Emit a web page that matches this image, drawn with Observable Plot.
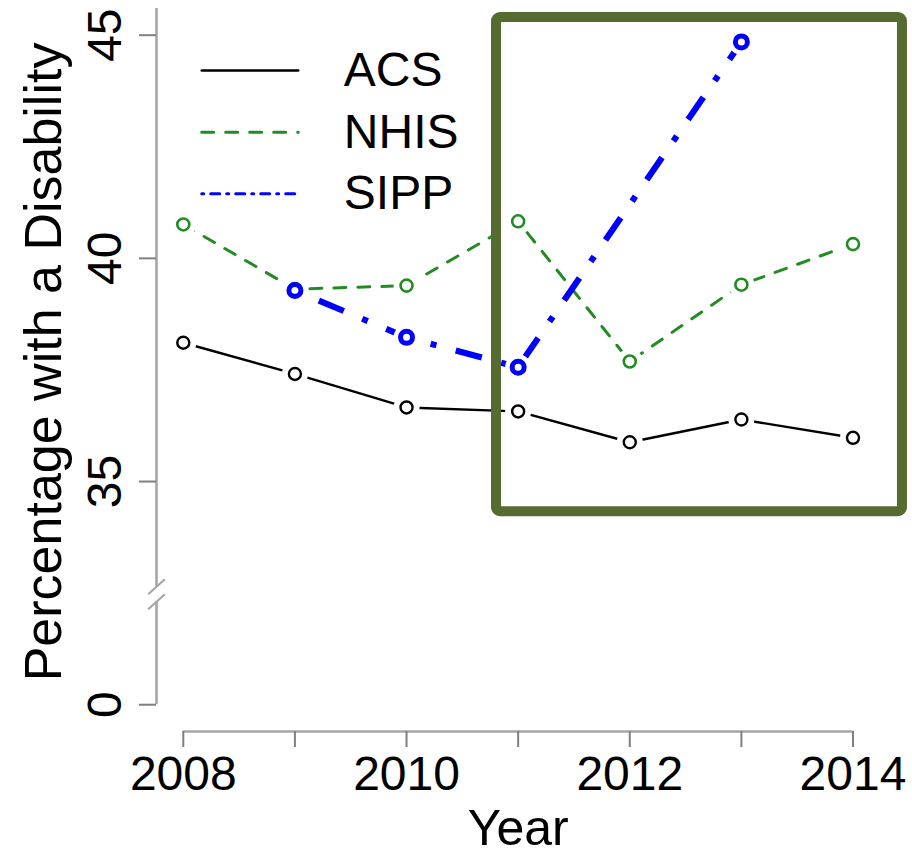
<!DOCTYPE html>
<html><head><meta charset="utf-8">
<script src="https://cdn.jsdelivr.net/npm/d3@7"></script>
<script src="https://cdn.jsdelivr.net/npm/@observablehq/plot@0.6"></script>
<style>
html,body{margin:0;padding:0;background:#fff;}
#chart svg{display:block;}
</style>
</head><body><div id="chart"></div>
<script>
// ---- data ----
const years = [2008, 2009, 2010, 2011, 2012, 2013, 2014];
const acs  = [38.11, 37.41, 36.66, 36.57, 35.88, 36.39, 35.98];
const nhis = [40.76, 39.31, 39.39, 40.83, 37.69, 39.41, 40.32];
const sipp = [null, 39.28, 38.23, 37.56, null, 44.85, null];
const seriesNames  = ["ACS", "NHIS", "SIPP"];
const seriesValues = [acs, nhis, sipp];
const seriesColors = ["#000000", "#228B22", "#0000FF"];
const yTickValues = [0, 35, 40, 45];
const yTickLabels = ["0", "35", "40", "45"];
const xTickLabels = ["2008", "", "2010", "", "2012", "", "2014"];
const yTitle = "Percentage with a Disability";
const xTitle = "Year";
// highlighted region (data units)
const boxX = [2010.806, 2014.443];
const boxY = [34.325, 45.396];

// ---- layout / styles ----
const zeroDrawnAt = 30;            // axis break: 0 is drawn where 30 would be
const brk = v => (v < zeroDrawnAt ? zeroDrawnAt + v : v);
const xDom = [2007.76, 2014.24];
const yDom = [29.4, 45.6];
const breakCenters = [32.644, 32.308];
const lineWidths = [2.4, 3, 6.2];
const lineDashes = [null, "12,12", "6,20,27,20"];
const dotR = [6, 6, 6];
const dotSW = [2.4, 2.6, 5];
const legendDashes = [null, "12,12", "2,7,9,7"];
const legendWidths = [2.4, 3, 3];
const FONT = "'Liberation Sans', Arial, Helvetica, sans-serif";
const axisGray = "#a6a6a6", tickGray = "#7f7f7f";

const rows = [];
seriesNames.forEach((s, k) => years.forEach((yr, i) => {
  const v = seriesValues[k][i];
  if (v != null) rows.push({series: s, year: yr, value: v, k});
}));
const legend = seriesNames.map((s, k) => ({series: s, k}));
const legY = k => 44.208 - k * 1.381;

const marks = [];
// y axis line with break
marks.push(Plot.ruleX([xDom[0]], {y1: yDom[1], y2: breakCenters[0], stroke: axisGray, strokeWidth: 2.6}));
marks.push(Plot.ruleX([xDom[0]], {y1: breakCenters[1], y2: brk(0), stroke: axisGray, strokeWidth: 2.6}));
marks.push(Plot.link(breakCenters, {x1: xDom[0] - 0.0744, x2: xDom[0] + 0.0744, y1: d => d - 0.168, y2: d => d + 0.168, stroke: axisGray, strokeWidth: 2.2}));
// y ticks & labels
marks.push(Plot.axisY(yTickValues.map(brk), {
  anchor: "left", tickSize: 17, tickRotate: -90, tickPadding: 19, fontSize: 48,
  tickFormat: d => yTickLabels[yTickValues.map(brk).indexOf(d)],
  stroke: tickGray, strokeWidth: 2, fill: "black", label: null
}));
// x axis
marks.push(Plot.ruleY([yDom[0]], {x1: years[0], x2: years[years.length - 1], stroke: axisGray, strokeWidth: 2.6}));
marks.push(Plot.axisX(years, {
  anchor: "bottom", tickSize: 16, tickPadding: 8, fontSize: 48,
  tickFormat: d => xTickLabels[years.indexOf(d)],
  stroke: tickGray, strokeWidth: 2, fill: "black", label: null
}));
// axis titles
marks.push(Plot.text([xTitle], {frameAnchor: "bottom", dy: 113, lineAnchor: "bottom", textAnchor: "middle", fontSize: 50, fill: "black"}));
marks.push(Plot.text([yTitle], {frameAnchor: "left", dx: -96, dy: -8, rotate: -90, lineAnchor: "bottom", textAnchor: "middle", fontSize: 52, fill: "black"}));
// series lines
seriesNames.forEach((s, k) => {
  marks.push(Plot.line(rows.filter(d => d.k === k), {
    x: "year", y: "value", stroke: seriesColors[k], strokeWidth: lineWidths[k],
    strokeDasharray: lineDashes[k], strokeLinecap: k === 2 ? "butt" : "round", curve: "linear"
  }));
});
// gaps around points (R type = "b")
marks.push(Plot.dot(rows, {x: "year", y: "value", r: 13, fill: "white", stroke: "none"}));
seriesNames.forEach((s, k) => {
  marks.push(Plot.dot(rows.filter(d => d.k === k), {
    x: "year", y: "value", r: dotR[k], stroke: seriesColors[k], strokeWidth: dotSW[k], fill: "none"
  }));
});
// legend
seriesNames.forEach((s, k) => {
  marks.push(Plot.link([legend[k]], {
    x1: 2008.165, x2: 2009.03, y1: d => legY(d.k), y2: d => legY(d.k),
    stroke: seriesColors[k], strokeWidth: legendWidths[k], strokeDasharray: legendDashes[k], strokeLinecap: "round"
  }));
});
marks.push(Plot.text(legend, {x: 2009.438, y: d => legY(d.k), text: "series", textAnchor: "start", lineAnchor: "middle", fontSize: 48, fill: "black"}));
// highlight box
marks.push(Plot.rect([{x1: boxX[0], x2: boxX[1], y1: boxY[0], y2: boxY[1]}], {
  x1: "x1", x2: "x2", y1: "y1", y2: "y2", fill: "none", stroke: "#556B2F", strokeWidth: 10, rx: 4, strokeLinejoin: "round"
}));

const chart = Plot.plot({
  width: 912, height: 855,
  marginLeft: 156, marginRight: 32.7, marginTop: 7.9, marginBottom: 124,
  x: {domain: xDom, axis: null},
  y: {domain: yDom, axis: null},
  style: {fontFamily: FONT, background: "white", color: "black", overflow: "visible"},
  marks
});
document.getElementById("chart").appendChild(chart);
</script>
</body></html>
